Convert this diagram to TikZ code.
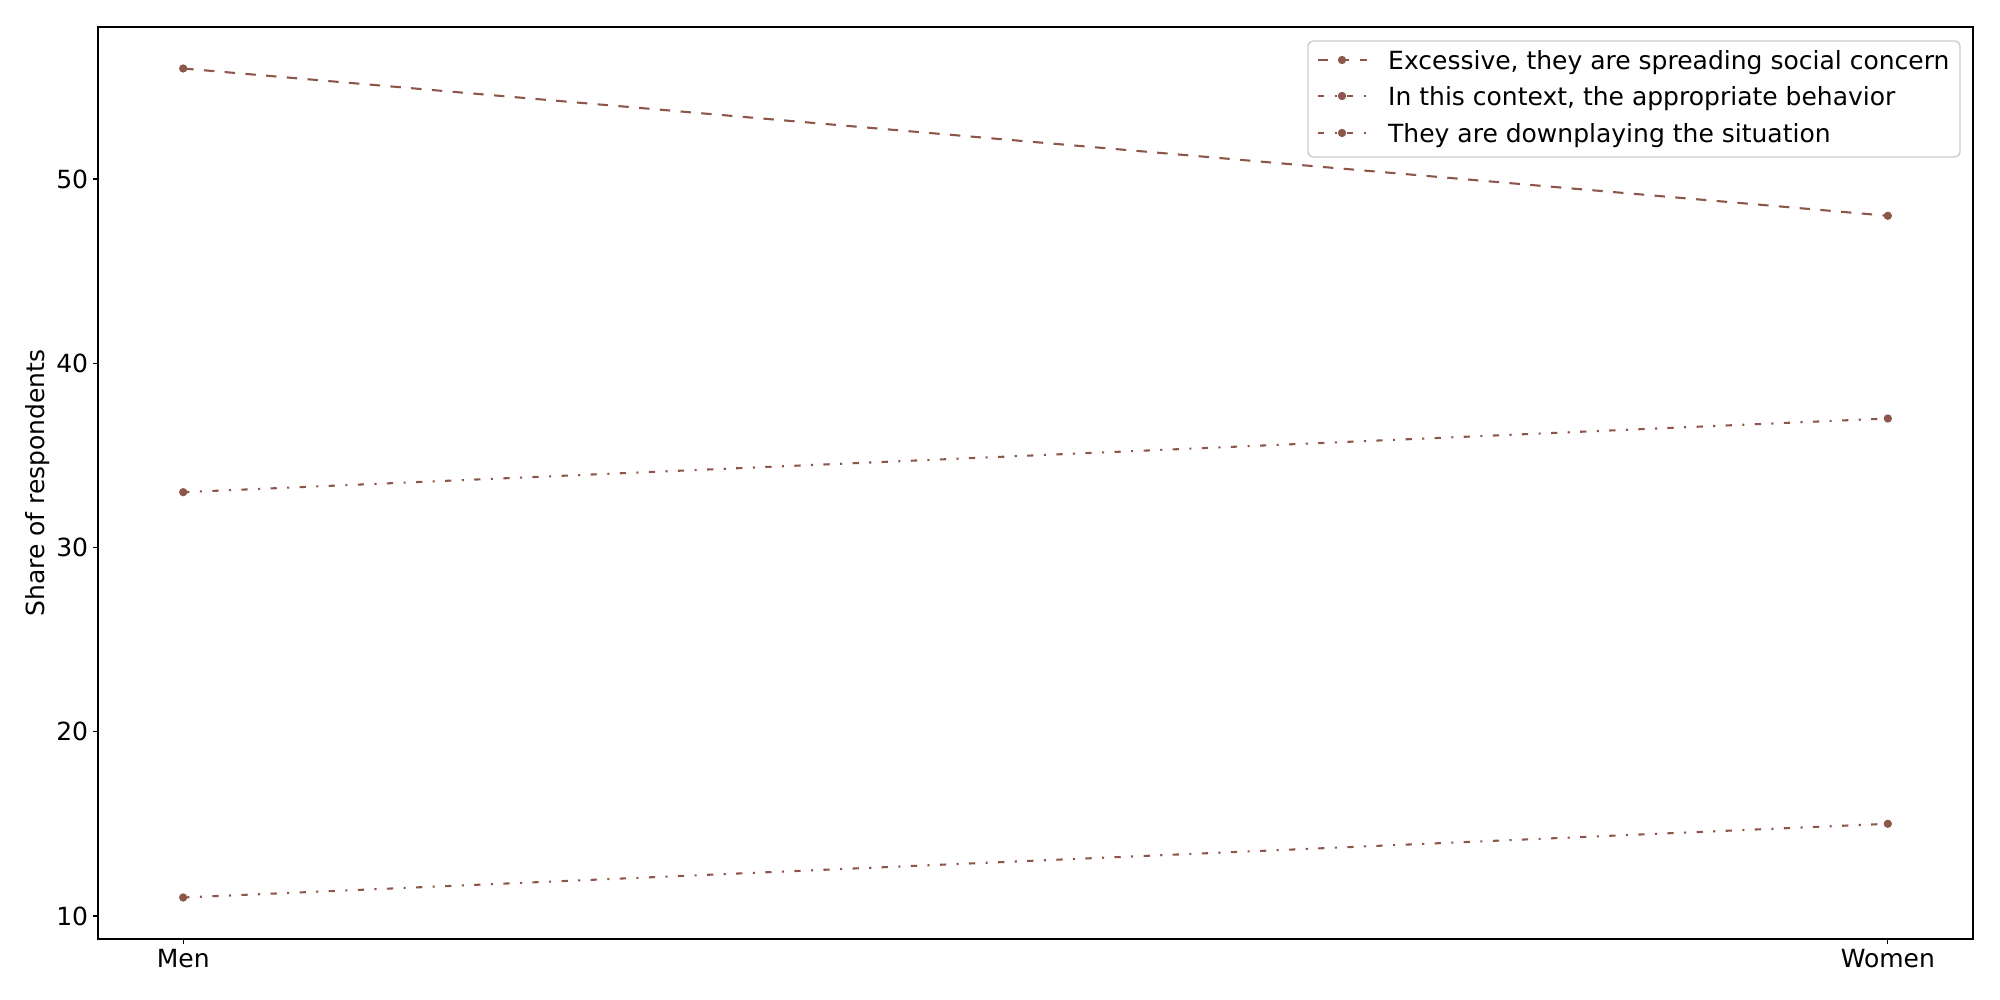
\documentclass[tikz,border=0pt]{standalone}
\usepackage{fontspec}
\setmainfont{DejaVu Sans}
\definecolor{tabbrown}{HTML}{8C564B}
\definecolor{legedge}{HTML}{CCCCCC}
\begin{document}
\begin{tikzpicture}[x=1pt,y=1pt,
  lbl/.style={font=\fontsize{25}{30}\selectfont, inner sep=0pt, text=black},
  frameline/.style={line width=1.11pt, black},
  tickmark/.style={line width=1.11pt, black},
  ser/.style={tabbrown, line width=2.08pt},
  sdash/.style={dash pattern=on 10.4pt off 10.4pt},
  sdashdot/.style={dash pattern=on 6.25pt off 10.4pt on 2.08pt off 10.4pt},
  mk/.style={circle, fill=tabbrown, inner sep=0pt, minimum size=8.3pt, draw=none},
  legframe/.style={draw=legedge, fill=white, fill opacity=0.8, draw opacity=1, rounded corners=5pt, line width=1.39pt}]
\useasboundingbox (0,0) rectangle (2000,1000);
\fill[white] (0,0) rectangle (2000,1000);

% axes corners
\coordinate (axSW) at (98,61);
\coordinate (axNE) at (1973,973);

% data points
\coordinate (m1) at (183.2,931.5);
\coordinate (w1) at (1887.8,784.2);
\coordinate (m2) at (183.2,507.8);
\coordinate (w2) at (1887.8,581.5);
\coordinate (m3) at (183.2,102.5);
\coordinate (w3) at (1887.8,176.2);

% series
\draw[ser,sdash] (m1) -- (w1);
\node[mk] (pm1) at (m1) {};
\node[mk] (pw1) at (w1) {};
\draw[ser,sdashdot] (m2) -- (w2);
\node[mk] (pm2) at (m2) {};
\node[mk] (pw2) at (w2) {};
\draw[ser,sdashdot] (m3) -- (w3);
\node[mk] (pm3) at (m3) {};
\node[mk] (pw3) at (w3) {};

% frame
\draw[frameline] (axSW) rectangle (axNE);

% y ticks
\foreach \v/\yy in {10/84.0,20/268.3,30/452.5,40/636.8,50/821.0}{
  \coordinate (yt\v) at (98,\yy);
  \coordinate (ytl\v) at (93.14,\yy);
  \draw[tickmark] (yt\v) -- (ytl\v);
  \node[lbl, anchor=east] (ylab\v) at (88.3,\yy) {\v};
}
% x ticks
\coordinate (xt0) at (183.2,61);
\coordinate (xtl0) at (183.2,56.14);
\draw[tickmark] (xt0) -- (xtl0);
\node[lbl, anchor=north] (xlabm) at (183.2,51) {Men};
\coordinate (xt1) at (1887.8,61);
\coordinate (xtl1) at (1887.8,56.14);
\draw[tickmark] (xt1) -- (xtl1);
\node[lbl, anchor=north] (xlabw) at (1887.8,51) {Women};

% y axis label
\node[lbl, rotate=90] (ylabel) at (38,517) {Share of respondents};

% legend
\path[legframe] (1308,843) rectangle (1960,959);
\coordinate (la1) at (1318,940);
\coordinate (lb1) at (1367,940);
\draw[ser,sdash] (la1) -- (lb1);
\node[mk] (lm1) at (1342,940) {};
\node[lbl, anchor=base west] (lt1) at (1388,930.9) {Excessive, they are spreading social concern};
\coordinate (la2) at (1318,904);
\coordinate (lb2) at (1367,904);
\draw[ser,sdashdot] (la2) -- (lb2);
\node[mk] (lm2) at (1342,904) {};
\node[lbl, anchor=base west] (lt2) at (1388,894.9) {In this context, the appropriate behavior};
\coordinate (la3) at (1318,867);
\coordinate (lb3) at (1367,867);
\draw[ser,sdashdot] (la3) -- (lb3);
\node[mk] (lm3) at (1342,867) {};
\node[lbl, anchor=base west] (lt3) at (1388,857.9) {They are downplaying the situation};
\end{tikzpicture}
\end{document}
